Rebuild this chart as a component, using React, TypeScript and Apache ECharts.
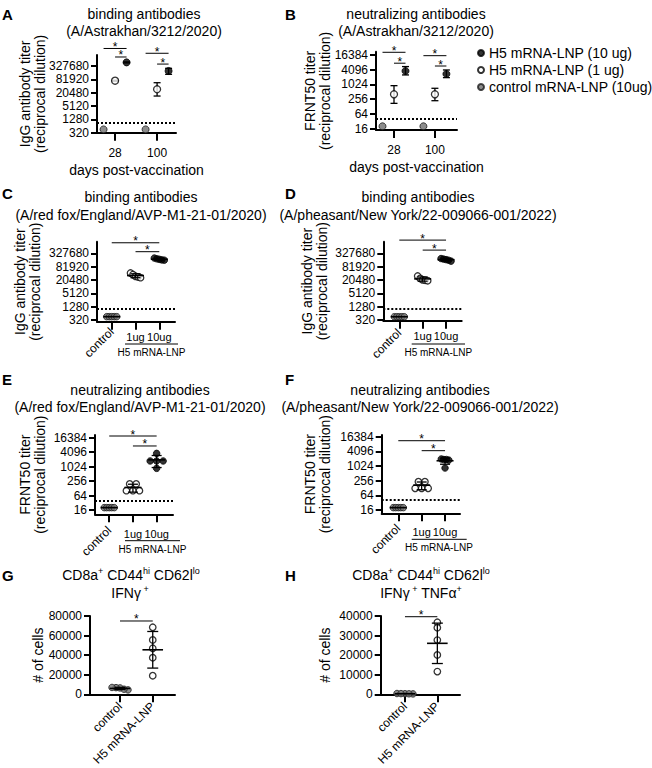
import React, { useEffect, useRef } from 'react';
import * as echarts from 'echarts';

const FONT = '"Liberation Sans", Arial, Helvetica, sans-serif';

// ---------- tick labels ----------
const bindingTicks = [320, 1280, 5120, 20480, 81920, 327680];
const neutralizingTicks = [16, 64, 256, 1024, 4096, 16384];
const cellTicksG = [0, 20000, 40000, 60000, 80000];
const cellTicksH = [0, 10000, 20000, 30000, 40000];

// ---------- categories ----------
const dayCategories = ['28', '100'];
const doseCategories = ['control', '1ug', '10ug'];
const cellCategories = ['control', 'H5 mRNA-LNP'];
const legendNames = ['H5 mRNA-LNP (10 ug)', 'H5 mRNA-LNP (1 ug)', 'control mRNA-LNP (10ug)'];

// ---------- A: binding antibodies, A/Astrakhan/3212/2020 (mean, error range) ----------
const aHighMean = [480000, 196000];
const aHighLow = [455000, 139000];
const aHighHigh = [505000, 259000];
const aLowMean = [71400, 29300];
const aLowLow = [68000, 14500];
const aLowHigh = [75000, 58000];
const aCtrlMean = [450, 450];
const aLimit = 900;

// ---------- B: neutralizing antibodies, A/Astrakhan/3212/2020 ----------
const bHighMean = [3620, 2740];
const bHighLow = [2500, 1940];
const bHighHigh = [5490, 3990];
const bLowMean = [405, 405];
const bLowLow = [173, 222];
const bLowHigh = [912, 713];
const bCtrlMean = [20, 20];
const bLimit = 42;

// ---------- C: binding, red fox ----------
const cCtrl = [450, 450, 450, 450, 450];
const cLow = [42000, 36000, 30000, 28000, 26000];
const cHigh = [200000, 185000, 175000, 165000, 160000];
const cLimit = 1000;

// ---------- D: binding, pheasant ----------
const dCtrl = [450, 450, 450, 450, 450];
const dLow = [31000, 24000, 21000, 20000, 19000];
const dHigh = [190000, 180000, 170000, 160000, 145000];
const dLimit = 1000;

// ---------- E: neutralizing, red fox ----------
const eCtrl = [20, 20, 20, 20, 20];
const eLow = [194, 194, 102, 102, 102];
const eHigh = [3650, 1760, 1760, 1760, 870];
const eLimit = 40;

// ---------- F: neutralizing, pheasant ----------
const fCtrl = [20, 20, 20, 20, 20];
const fLow = [232, 232, 125, 125, 125];
const fHigh = [2000, 1900, 1900, 1800, 850];
const fLimit = 42;

// ---------- G / H: T cells ----------
const gCtrl = [4500, 5200, 6500, 6800, 7000];
const gH5 = [68500, 55500, 47000, 37400, 19000];
const hCtrl = [200, 300, 400, 250, 350];
const hH5 = [36800, 34000, 27700, 20100, 11600];

// ---------- layout ----------
type Frame = { left: number; top: number; width: number; height: number; xMin: number; xMax: number; yMin: number; yMax: number };
const frameA: Frame = { left: 97, top: 55, width: 79, height: 77.7, xMin: -0.43, xMax: 1.45, yMin: 0, yMax: 5.83 };
const frameB: Frame = { left: 376, top: 51.7, width: 81, height: 78.3, xMin: -0.44, xMax: 1.54, yMin: -0.09, yMax: 5.22 };
const frameC: Frame = { left: 97, top: 241.7, width: 78, height: 80, xMin: -0.62, xMax: 2.66, yMin: -0.13, yMax: 5.87 };
const frameD: Frame = { left: 383.3, top: 241.7, width: 78.4, height: 79, xMin: -0.685, xMax: 2.67, yMin: -0.05, yMax: 5.87 };
const frameE: Frame = { left: 95, top: 435, width: 78, height: 79.3, xMin: -0.6, xMax: 2.69, yMin: -0.3, yMax: 5.19 };
const frameF: Frame = { left: 381.7, top: 435, width: 78.3, height: 78.3, xMin: -0.71, xMax: 2.64, yMin: -0.225, yMax: 5.12 };
const frameG: Frame = { left: 90, top: 616, width: 85, height: 78.3, xMin: -0.917, xMax: 1.68, yMin: 0, yMax: 80000 };
const frameH: Frame = { left: 380.7, top: 616, width: 79.3, height: 78.3, xMin: -0.75, xMax: 1.7, yMin: 0, yMax: 40000 };

const BLACK = '#000';
const styleHigh = { color: '#000', borderColor: '#000', borderWidth: 1 };
const styleLow = { color: '#fff', borderColor: '#000', borderWidth: 1.3 };
const styleCtrl = { color: '#707070', borderColor: '#1a1a1a', borderWidth: 1 };

type YSpec = { ticks: number[]; log: boolean };

function meanSd(vals: number[]) {
  const m = vals.reduce((a, b) => a + b, 0) / vals.length;
  const sd = vals.length > 1 ? Math.sqrt(vals.reduce((a, b) => a + (b - m) ** 2, 0) / (vals.length - 1)) : 0;
  return [m, sd];
}

function buildOption() {
  const grid: any[] = [];
  const xAxis: any[] = [];
  const yAxis: any[] = [];
  const series: any[] = [];
  const graphics: any[] = [];
  const axisLine = { show: true, onZero: false, lineStyle: { color: BLACK, width: 2 } };

  function addFrame(
    f: Frame,
    ys: YSpec,
    cats: string[],
    flat: number[],
    rot: number[],
    o: { yName: string; yNameGap: number; flatMargin: number; rotMargin: number; flatSize: number; xName?: string; xNameGap?: number }
  ) {
    const gi = grid.length;
    grid.push({ left: f.left, top: f.top, width: f.width, height: f.height, containLabel: false, outerBoundsMode: 'none' });
    const base = ys.ticks[0];
    const tf = (v: number) => (ys.log ? Math.log(v / base) / Math.log(4) : v);
    const tickVals = ys.ticks.map(tf);
    const yLabel = (v: number) => {
      const i = tickVals.findIndex((t) => Math.abs(t - v) < 1e-6);
      return i >= 0 ? String(ys.ticks[i]) : '';
    };
    const yi = yAxis.length;
    yAxis.push({
      type: 'value', gridIndex: gi, min: f.yMin, max: f.yMax, position: 'left',
      axisLine,
      axisTick: { show: true, length: 6, lineStyle: { color: BLACK, width: 2 }, customValues: tickVals },
      axisLabel: { show: true, customValues: tickVals, formatter: yLabel, fontSize: 12, color: BLACK, fontFamily: FONT, margin: 8 },
      splitLine: { show: false },
      name: o.yName, nameLocation: 'middle', nameGap: o.yNameGap, nameMoveOverlap: false,
      nameTextStyle: { fontSize: 14, lineHeight: 15, color: BLACK, fontFamily: FONT },
    });
    const catVals = cats.map((_, i) => i);
    const catLabel = (v: number) => cats[Math.round(v)] ?? '';
    const xi = xAxis.length;
    xAxis.push({
      type: 'value', gridIndex: gi, min: f.xMin, max: f.xMax, position: 'bottom',
      axisLine,
      axisTick: { show: true, length: 8, lineStyle: { color: BLACK, width: 2 }, customValues: catVals },
      axisLabel: { show: flat.length > 0, customValues: flat, formatter: catLabel, fontSize: o.flatSize, color: BLACK, fontFamily: FONT, margin: o.flatMargin },
      splitLine: { show: false },
      name: o.xName || '', nameLocation: 'middle', nameGap: o.xNameGap || 30, nameMoveOverlap: false,
      nameTextStyle: { fontSize: 14, color: BLACK, fontFamily: FONT, verticalAlign: 'top' },
    });
    if (rot.length) {
      xAxis.push({
        type: 'value', gridIndex: gi, min: f.xMin, max: f.xMax, position: 'bottom',
        axisLine: { show: false, onZero: false }, axisTick: { show: false }, splitLine: { show: false },
        axisLabel: { show: true, customValues: rot, rotate: 45, formatter: catLabel, fontSize: 12, color: BLACK, fontFamily: FONT, margin: o.rotMargin },
      });
    }
    const pxPerX = f.width / (f.xMax - f.xMin);
    const pxPerY = f.height / (f.yMax - f.yMin);
    return { gi, xi, yi, tf, pxPerX, pxPerY };
  }
  type Fr = ReturnType<typeof addFrame>;

  function addPoints(fr: Fr, x: number, values: number[], style: any, name: string, manySpacing: number, size: number, extra: any = {}) {
    const tv = values.map(fr.tf);
    const order = tv.map((_, i) => i).sort((a, b) => tv[b] - tv[a]);
    const rows: number[][] = [];
    for (const i of order) {
      const last = rows[rows.length - 1];
      if (last && Math.abs(tv[last[last.length - 1]] - tv[i]) * fr.pxPerY < 4) last.push(i);
      else rows.push([i]);
    }
    const offs = new Array(values.length).fill(0);
    rows.forEach((r) => {
      const sp = r.length >= 4 ? manySpacing : 6.5;
      r.forEach((idx, j) => { offs[idx] = (j - (r.length - 1) / 2) * sp; });
    });
    series.push({
      type: 'scatter', name, xAxisIndex: fr.xi, yAxisIndex: fr.yi, symbol: 'circle', symbolSize: size,
      itemStyle: style, z: 3, silent: true,
      data: tv.map((v, i) => ({ value: [x, v], symbolOffset: [offs[i], 0] })),
      ...extra,
    });
  }

  function limitLine(fr: Fr, v: number) {
    return {
      markLine: {
        silent: true, symbol: ['none', 'none'], label: { show: false },
        lineStyle: { type: 'dotted', color: BLACK, width: 2 },
        emphasis: { disabled: true },
        data: [{ yAxis: fr.tf(v) }],
      },
    };
  }

  function addErrorBars(fr: Fr, items: number[][], capHalf: number, meanHalf: number, z: number) {
    series.push({
      type: 'custom', xAxisIndex: fr.xi, yAxisIndex: fr.yi, z, silent: true, clip: false,
      data: items,
      renderItem: (_p: any, api: any) => {
        const x = api.value(0), m = api.value(1), lo = api.value(2), hi = api.value(3);
        const pm = api.coord([x, m]), pl = api.coord([x, lo]), ph = api.coord([x, hi]);
        const st = { stroke: BLACK, lineWidth: 1.3 };
        const ch: any[] = [];
        if (Math.abs(pl[1] - ph[1]) > 0.5) {
          ch.push({ type: 'line', shape: { x1: pl[0], y1: pl[1], x2: ph[0], y2: ph[1] }, style: st });
          ch.push({ type: 'line', shape: { x1: pl[0] - capHalf, y1: pl[1], x2: pl[0] + capHalf, y2: pl[1] }, style: st });
          ch.push({ type: 'line', shape: { x1: ph[0] - capHalf, y1: ph[1], x2: ph[0] + capHalf, y2: ph[1] }, style: st });
        }
        if (meanHalf > 0) {
          ch.push({ type: 'line', shape: { x1: pm[0] - meanHalf, y1: pm[1], x2: pm[0] + meanHalf, y2: pm[1] }, style: { stroke: BLACK, lineWidth: 1.6 } });
        }
        return { type: 'group', children: ch };
      },
    });
  }

  function addSig(fr: Fr, bars: number[][]) {
    series.push({
      type: 'custom', xAxisIndex: fr.xi, yAxisIndex: fr.yi, z: 6, silent: true, clip: false,
      data: bars,
      renderItem: (_p: any, api: any) => {
        const a = api.coord([api.value(0), api.value(2)]);
        const b = api.coord([api.value(1), api.value(2)]);
        return {
          type: 'group',
          children: [
            { type: 'line', shape: { x1: a[0], y1: a[1], x2: b[0], y2: b[1] }, style: { stroke: BLACK, lineWidth: 1 } },
            {
              type: 'text', x: (a[0] + b[0]) / 2, y: a[1] - 1.5,
              style: { text: '*', fill: BLACK, fontSize: 12, fontFamily: FONT, align: 'center', verticalAlign: 'middle', textAlign: 'center', textVerticalAlign: 'middle' },
            },
          ],
        };
      },
    });
  }

  // ---------- A & B (day panels) ----------
  // brackets: [from group side, to group side, level, day]  (side: -1 control, 0 1 ug, +1 10 ug)
  function dayPanel(f: Frame, ys: YSpec, yName: string, yNameGap: number,
    hi: number[][], lo: number[][], ctrl: number[], limit: number, brackets: number[][]) {
    const fr = addFrame(f, ys, dayCategories, [0, 1], [], { yName, yNameGap, flatMargin: 14, rotMargin: 0, flatSize: 12, xName: 'days post-vaccination', xNameGap: 30 });
    const off = 11.5 / fr.pxPerX;
    const groups = [
      { mean: hi[0], low: hi[1], high: hi[2], dx: off, style: styleHigh },
      { mean: lo[0], low: lo[1], high: lo[2], dx: 0, style: styleLow },
      { mean: ctrl, low: ctrl, high: ctrl, dx: -off, style: styleCtrl },
    ];
    groups.forEach((g, gi) => {
      series.push({
        type: 'scatter', name: legendNames[gi], xAxisIndex: fr.xi, yAxisIndex: fr.yi, symbol: 'circle', symbolSize: 7,
        itemStyle: g.style, z: 4, silent: true,
        data: g.mean.map((v, d) => [d + g.dx, fr.tf(v)]),
        ...(gi === 2 ? limitLine(fr, limit) : {}),
      });
      addErrorBars(fr, g.mean.map((v, d) => [d + g.dx, fr.tf(v), fr.tf(g.low[d]), fr.tf(g.high[d])]), 3.5, 0, 2);
    });
    addSig(fr, brackets.map(([s1, s2, lvl, day]) => [day + s1 * off, day + s2 * off, lvl]));
  }

  dayPanel(frameA, { ticks: bindingTicks, log: true }, 'IgG antibody titer\n(reciprocal dilution)', 49.5,
    [aHighMean, aHighLow, aHighHigh], [aLowMean, aLowLow, aLowHigh], aCtrlMean, aLimit,
    [[-1, 1, 6.32, 0], [0, 1, 5.68, 0], [-1, 1, 5.96, 1], [0, 1, 5.15, 1]]);
  dayPanel(frameB, { ticks: neutralizingTicks, log: true }, 'FRNT50 titer\n(reciprocal dilution)', 43.5,
    [bHighMean, bHighLow, bHighHigh], [bLowMean, bLowLow, bLowHigh], bCtrlMean, bLimit,
    [[-1, 1, 5.18, 0], [0, 1, 4.44, 0], [-1, 1, 4.95, 1], [0, 1, 4.25, 1]]);

  // ---------- C–F (dose panels) ----------
  function dosePanel(f: Frame, ys: YSpec, yName: string, yNameGap: number, margins: [number, number],
    ctrl: number[], low: number[], high: number[], limit: number, name: string, brackets: number[][]) {
    const fr = addFrame(f, ys, doseCategories, [1, 2], [0], { yName, yNameGap, flatMargin: margins[0], rotMargin: margins[1], flatSize: 11 });
    const sets = [ctrl, low, high];
    const styles = [styleCtrl, styleLow, styleHigh];
    sets.forEach((vals, i) => {
      addPoints(fr, i, vals, styles[i], `${name} ${doseCategories[i]}`, 2.5, 6.5, i === 0 ? limitLine(fr, limit) : {});
    });
    addErrorBars(fr, sets.map((vals, i) => {
      const [m, sd] = meanSd(vals);
      const lo = m - sd > 0 ? m - sd : m;
      return [i, fr.tf(m), fr.tf(lo), fr.tf(m + sd)];
    }), 5, 8.5, 5);
    addSig(fr, brackets);
  }
  dosePanel(frameC, { ticks: bindingTicks, log: true }, 'IgG antibody titer\n(reciprocal dilution)', 54.5, [10, 8],
    cCtrl, cLow, cHigh, cLimit, 'C', [[0, 2, 5.79], [1, 2, 5.12]]);
  dosePanel(frameD, { ticks: bindingTicks, log: true }, 'IgG antibody titer\n(reciprocal dilution)', 53.8, [10, 10],
    dCtrl, dLow, dHigh, dLimit, 'D', [[0, 2, 5.99], [1, 2, 5.24]]);
  dosePanel(frameE, { ticks: neutralizingTicks, log: true }, 'FRNT50 titer\n(reciprocal dilution)', 47.5, [14, 14],
    eCtrl, eLow, eHigh, eLimit, 'E', [[0, 2, 5.12], [1, 2, 4.43]]);
  dosePanel(frameF, { ticks: neutralizingTicks, log: true }, 'FRNT50 titer\n(reciprocal dilution)', 49, [13, 13],
    fCtrl, fLow, fHigh, fLimit, 'F', [[0, 2, 4.73], [1, 2, 4.05]]);

  // ---------- G & H (cell panels) ----------
  function cellPanel(f: Frame, ticks: number[], yNameGap: number, ctrl: number[], h5: number[], name: string, bracketLevel: number) {
    const fr = addFrame(f, { ticks, log: false }, cellCategories, [], [0, 1], { yName: '# of cells', yNameGap, flatMargin: 0, rotMargin: 10, flatSize: 12 });
    addPoints(fr, 0, ctrl, styleCtrl, `${name} control`, 4, 6.5);
    addPoints(fr, 1, h5, styleLow, `${name} H5`, 4, 6.5);
    addErrorBars(fr, [ctrl, h5].map((vals, i) => {
      const [m, sd] = meanSd(vals);
      return [i, m, Math.max(0, m - sd), m + sd];
    }), 5.5, 10.3, 5);
    addSig(fr, [[0, 1, bracketLevel]]);
  }
  cellPanel(frameG, cellTicksG, 45, gCtrl, gH5, 'G', 74900);
  cellPanel(frameH, cellTicksH, 48.7, hCtrl, hH5, 'H', 39640);

  // ---------- texts ----------
  const txt = (text: string, x: number, y: number, size: number, align = 'center', bold = false) => ({
    type: 'text', x, y, silent: true,
    style: {
      text, fill: BLACK, fontSize: size, fontFamily: FONT, fontWeight: bold ? 'bold' : 'normal',
      align, verticalAlign: 'middle', textAlign: align, textVerticalAlign: 'middle',
    },
  });
  const letters: [string, number, number][] = [
    ['A', 2, 14], ['B', 285, 14], ['C', 2, 193], ['D', 285, 193],
    ['E', 2, 379], ['F', 285, 379], ['G', 2, 575], ['H', 285, 575],
  ];
  letters.forEach(([t, x, y]) => graphics.push(txt(t, x, y, 15, 'left', true)));

  const titles: [string, number, number][] = [
    ['binding antibodies', 144, 14], ['(A/Astrakhan/3212/2020)', 144, 31],
    ['neutralizing antibodies', 416, 14], ['(A/Astrakhan/3212/2020)', 416, 31],
    ['binding antibodies', 141, 197], ['(A/red fox/England/AVP-M1-21-01/2020)', 141, 215],
    ['binding antibodies', 418, 197], ['(A/pheasant/New York/22-009066-001/2022)', 418, 215],
    ['neutralizing antibodies', 140, 390], ['(A/red fox/England/AVP-M1-21-01/2020)', 140, 407],
    ['neutralizing antibodies', 420, 390], ['(A/pheasant/New York/22-009066-001/2022)', 420, 407],
  ];
  titles.forEach(([t, x, y]) => graphics.push(txt(t, x, y, 14)));

  const rich = {
    n: { fontSize: 14, fontFamily: FONT, fill: BLACK, lineHeight: 17 },
    s: { fontSize: 9, fontFamily: FONT, fill: BLACK, lineHeight: 9, verticalAlign: 'top', textVerticalAlign: 'top' },
  };
  const richTxt = (text: string, x: number, y: number) => ({
    type: 'text', x, y, silent: true,
    style: { text, rich, fill: BLACK, fontSize: 14, fontFamily: FONT, align: 'center', verticalAlign: 'middle', textAlign: 'center', textVerticalAlign: 'middle' },
  });
  const cd8Line = '{n|CD8a}{s|+}{n| CD44}{s|hi}{n| CD62l}{s|lo}';
  graphics.push(richTxt(cd8Line, 131, 575));
  graphics.push(richTxt('{n|IFNγ}{s| +}', 130, 593));
  graphics.push(richTxt(cd8Line, 421, 575));
  graphics.push(richTxt('{n|IFNγ}{s| +}{n| TNFα}{s|+}', 421, 593));

  // "H5 mRNA-LNP" group labels under 1ug / 10ug
  const groupLabels: [number, number, number, number, number][] = [
    [125, 178, 344, 151.5, 352],
    [411.7, 465, 344, 438.3, 352.5],
    [125, 180, 540.7, 152.5, 549.3],
    [411.7, 466.7, 539.3, 439, 547.5],
  ];
  groupLabels.forEach(([x1, x2, ly, tx, ty]) => {
    graphics.push({ type: 'line', silent: true, shape: { x1, y1: ly, x2, y2: ly }, style: { stroke: BLACK, lineWidth: 1 } });
    graphics.push(txt('H5 mRNA-LNP', tx, ty, 10));
  });

  return {
    animation: false,
    backgroundColor: '#fff',
    textStyle: { fontFamily: FONT, color: BLACK },
    grid, xAxis, yAxis, series,
    legend: {
      data: legendNames, left: 477, top: 46, orient: 'vertical', padding: 0,
      itemWidth: 6, itemHeight: 6, itemGap: 3, icon: 'circle', selectedMode: false,
      textStyle: { fontSize: 14, color: BLACK, fontFamily: FONT },
    },
    graphic: { elements: graphics },
  };
}

export default function App() {
  const ref = useRef<HTMLDivElement>(null);
  useEffect(() => {
    if (!ref.current) return;
    const chart = echarts.init(ref.current, null, { renderer: 'svg' });
    chart.setOption(buildOption() as any);
    return () => chart.dispose();
  }, []);
  return <div ref={ref} style={{ position: 'absolute', left: 0, top: 0, width: 652, height: 768, background: '#fff' }} />;
}
